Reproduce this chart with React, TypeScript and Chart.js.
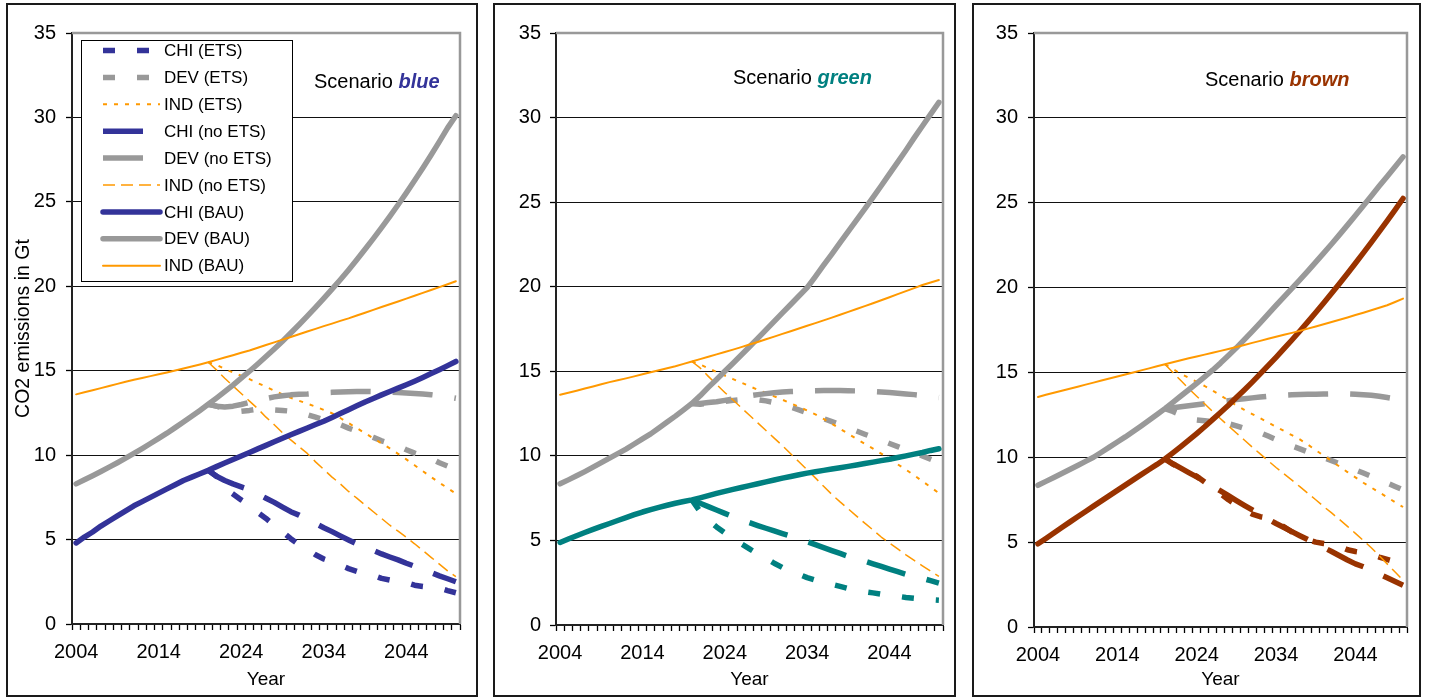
import React, { useEffect, useRef } from 'react';
import { Chart, registerables } from 'chart.js';

Chart.register(...registerables);

const FONT = '"Liberation Sans", Arial, Helvetica, sans-serif';
Chart.defaults.font.family = FONT;
Chart.defaults.color = '#000';

// ---------- categories ----------
const years = [
  '2004', '2005', '2006', '2007', '2008', '2009', '2010', '2011', '2012', '2013',
  '2014', '2015', '2016', '2017', '2018', '2019', '2020', '2021', '2022', '2023',
  '2024', '2025', '2026', '2027', '2028', '2029', '2030', '2031', '2032', '2033',
  '2034', '2035', '2036', '2037', '2038', '2039', '2040', '2041', '2042', '2043',
  '2044', '2045', '2046', '2047', '2048', '2049', '2050',
];
const yTicks = [0, 5, 10, 15, 20, 25, 30, 35];
const seriesNames = [
  'CHI (ETS)', 'DEV (ETS)', 'IND (ETS)',
  'CHI (no ETS)', 'DEV (no ETS)', 'IND (no ETS)',
  'CHI (BAU)', 'DEV (BAU)', 'IND (BAU)',
];

// ---------- Scenario blue ----------
const blueChiBau = [4.80, 5.15, 5.45, 5.80, 6.10, 6.40, 6.70, 7.00, 7.25, 7.50, 7.75, 8.00, 8.25, 8.50, 8.70, 8.90, 9.10, 9.32, 9.53, 9.74, 9.95, 10.16, 10.37, 10.58, 10.79, 11.00, 11.21, 11.41, 11.61, 11.81, 12.01, 12.23, 12.46, 12.69, 12.92, 13.15, 13.36, 13.57, 13.77, 13.97, 14.17, 14.38, 14.60, 14.83, 15.06, 15.30, 15.55];
const blueDevBau = [8.30, 8.54, 8.78, 9.03, 9.29, 9.55, 9.82, 10.10, 10.39, 10.69, 10.99, 11.30, 11.63, 11.96, 12.30, 12.65, 13.01, 13.38, 13.76, 14.15, 14.56, 14.97, 15.40, 15.84, 16.29, 16.75, 17.23, 17.72, 18.23, 18.75, 19.28, 19.83, 20.39, 20.97, 21.57, 22.19, 22.82, 23.47, 24.14, 24.83, 25.53, 26.26, 27.01, 27.78, 28.57, 29.38, 30.10];
const blueIndBau = [13.60, 13.72, 13.84, 13.97, 14.09, 14.22, 14.35, 14.46, 14.57, 14.68, 14.79, 14.90, 15.01, 15.13, 15.25, 15.37, 15.50, 15.64, 15.78, 15.92, 16.06, 16.20, 16.36, 16.52, 16.68, 16.84, 17.00, 17.16, 17.32, 17.48, 17.64, 17.79, 17.95, 18.10, 18.27, 18.43, 18.60, 18.77, 18.94, 19.10, 19.27, 19.44, 19.61, 19.78, 19.95, 20.12, 20.30];
// 2020 .. 2050
const blueChiEts = [9.10, 8.75, 8.05, 7.70, 7.35, 7.05, 6.60, 6.25, 5.85, 5.45, 5.05, 4.70, 4.42, 4.10, 3.85, 3.68, 3.49, 3.28, 3.12, 3.00, 2.88, 2.70, 2.60, 2.52, 2.45, 2.30, 2.22, 2.17, 2.13, 1.98, 1.85];
const blueDevEts = [13.01, 12.90, 12.75, 12.65, 12.60, 12.65, 12.72, 12.75, 12.68, 12.65, 12.60, 12.55, 12.40, 12.25, 12.10, 11.98, 11.80, 11.60, 11.42, 11.25, 11.05, 10.85, 10.70, 10.55, 10.32, 10.12, 9.95, 9.80, 9.55, 9.35, 9.15];
const blueIndEts = [15.50, 15.35, 15.10, 14.90, 14.70, 14.50, 14.27, 14.05, 13.82, 13.60, 13.40, 13.22, 13.05, 12.87, 12.68, 12.48, 12.20, 11.90, 11.60, 11.30, 11.00, 10.70, 10.40, 10.08, 9.75, 9.40, 9.05, 8.70, 8.37, 8.05, 7.72];
const blueChiNoEts = [9.10, 8.75, 8.50, 8.30, 8.12, 7.95, 7.70, 7.45, 7.20, 6.92, 6.65, 6.45, 6.20, 5.95, 5.70, 5.47, 5.22, 4.98, 4.75, 4.58, 4.36, 4.15, 3.97, 3.80, 3.60, 3.42, 3.25, 3.05, 2.85, 2.68, 2.50];
const blueDevNoEts = [13.01, 12.90, 12.85, 12.90, 13.00, 13.12, 13.25, 13.35, 13.45, 13.52, 13.57, 13.60, 13.62, 13.66, 13.70, 13.72, 13.74, 13.76, 13.77, 13.77, 13.76, 13.75, 13.73, 13.71, 13.68, 13.65, 13.62, 13.58, 13.52, 13.45, 13.37];
const blueIndNoEts = [15.50, 15.05, 14.55, 14.10, 13.65, 13.20, 12.75, 12.25, 11.80, 11.33, 10.90, 10.50, 10.10, 9.60, 9.15, 8.70, 8.30, 7.85, 7.45, 7.05, 6.65, 6.25, 5.85, 5.50, 5.13, 4.75, 4.35, 3.95, 3.55, 3.15, 2.80];

// ---------- Scenario green ----------
const greenChiBau = [4.88, 5.08, 5.28, 5.47, 5.65, 5.83, 6.00, 6.18, 6.35, 6.52, 6.68, 6.82, 6.95, 7.08, 7.20, 7.30, 7.40, 7.52, 7.65, 7.78, 7.90, 8.02, 8.13, 8.24, 8.35, 8.46, 8.57, 8.68, 8.78, 8.88, 8.98, 9.06, 9.14, 9.22, 9.30, 9.38, 9.46, 9.55, 9.63, 9.72, 9.80, 9.90, 10.00, 10.10, 10.20, 10.32, 10.42];
const greenDevBau = [8.35, 8.58, 8.82, 9.07, 9.33, 9.60, 9.87, 10.13, 10.40, 10.70, 11.00, 11.30, 11.65, 12.00, 12.35, 12.72, 13.10, 13.55, 14.05, 14.52, 15.00, 15.48, 15.96, 16.45, 16.95, 17.45, 17.95, 18.45, 18.95, 19.45, 19.95, 20.60, 21.27, 21.93, 22.60, 23.27, 23.93, 24.60, 25.28, 25.97, 26.67, 27.37, 28.07, 28.80, 29.50, 30.20, 30.90];
const greenIndBau = [13.61, 13.73, 13.85, 13.98, 14.10, 14.23, 14.36, 14.47, 14.58, 14.70, 14.82, 14.94, 15.06, 15.18, 15.30, 15.44, 15.58, 15.72, 15.86, 16.00, 16.14, 16.28, 16.43, 16.58, 16.73, 16.89, 17.05, 17.21, 17.37, 17.53, 17.69, 17.85, 18.01, 18.17, 18.34, 18.51, 18.68, 18.85, 19.02, 19.20, 19.38, 19.56, 19.74, 19.92, 20.10, 20.25, 20.40];
const greenChiEts = [7.40, 6.70, 6.20, 5.80, 5.45, 5.10, 4.80, 4.50, 4.20, 3.95, 3.65, 3.40, 3.20, 3.00, 2.80, 2.65, 2.50, 2.40, 2.28, 2.15, 2.05, 1.97, 1.90, 1.82, 1.75, 1.70, 1.63, 1.58, 1.53, 1.50, 1.47];
const greenDevEts = [13.10, 13.05, 13.10, 13.15, 13.22, 13.28, 13.33, 13.35, 13.32, 13.25, 13.15, 13.02, 12.88, 12.72, 12.55, 12.38, 12.20, 12.02, 11.84, 11.65, 11.47, 11.28, 11.10, 10.92, 10.73, 10.55, 10.36, 10.18, 10.00, 9.80, 9.60];
const greenIndEts = [15.58, 15.40, 15.18, 14.96, 14.75, 14.54, 14.33, 14.12, 13.91, 13.72, 13.52, 13.32, 13.11, 12.90, 12.68, 12.45, 12.18, 11.90, 11.60, 11.30, 11.00, 10.72, 10.43, 10.13, 9.82, 9.50, 9.18, 8.85, 8.50, 8.15, 7.80];
const greenChiNoEts = [7.40, 7.20, 7.00, 6.80, 6.60, 6.40, 6.22, 6.05, 5.88, 5.72, 5.56, 5.40, 5.25, 5.10, 4.93, 4.75, 4.58, 4.40, 4.23, 4.06, 3.92, 3.78, 3.62, 3.46, 3.30, 3.15, 3.00, 2.88, 2.76, 2.62, 2.48];
const greenDevNoEts = [13.10, 13.10, 13.15, 13.20, 13.28, 13.37, 13.46, 13.55, 13.62, 13.68, 13.73, 13.77, 13.80, 13.82, 13.84, 13.85, 13.86, 13.86, 13.86, 13.85, 13.84, 13.82, 13.80, 13.77, 13.74, 13.70, 13.66, 13.62, 13.57, 13.51, 13.45];
const greenIndNoEts = [15.58, 15.20, 14.70, 14.22, 13.75, 13.30, 12.85, 12.40, 11.95, 11.50, 11.05, 10.60, 10.12, 9.65, 9.18, 8.70, 8.20, 7.72, 7.28, 6.86, 6.44, 6.02, 5.62, 5.20, 4.85, 4.50, 4.15, 3.82, 3.50, 3.18, 2.87];

// ---------- Scenario brown ----------
const brownChiBau = [4.90, 5.22, 5.54, 5.86, 6.18, 6.50, 6.81, 7.12, 7.43, 7.74, 8.05, 8.36, 8.67, 8.98, 9.28, 9.58, 9.90, 10.26, 10.63, 11.01, 11.40, 11.80, 12.22, 12.64, 13.07, 13.52, 13.97, 14.43, 14.91, 15.40, 15.89, 16.40, 16.91, 17.44, 17.98, 18.53, 19.09, 19.66, 20.24, 20.83, 21.43, 22.04, 22.66, 23.29, 23.93, 24.58, 25.25];
const brownDevBau = [8.35, 8.58, 8.81, 9.04, 9.28, 9.52, 9.76, 10.00, 10.30, 10.60, 10.90, 11.20, 11.52, 11.85, 12.18, 12.52, 12.87, 13.24, 13.61, 13.98, 14.36, 14.74, 15.13, 15.55, 16.00, 16.45, 16.93, 17.42, 17.92, 18.43, 18.95, 19.45, 19.95, 20.45, 20.97, 21.50, 22.03, 22.57, 23.12, 23.68, 24.25, 24.82, 25.40, 25.98, 26.55, 27.12, 27.70];
const brownIndBau = [13.55, 13.68, 13.80, 13.92, 14.04, 14.16, 14.28, 14.40, 14.52, 14.64, 14.76, 14.88, 15.00, 15.12, 15.24, 15.36, 15.48, 15.60, 15.72, 15.83, 15.94, 16.05, 16.16, 16.27, 16.38, 16.50, 16.62, 16.74, 16.86, 16.98, 17.10, 17.22, 17.33, 17.45, 17.58, 17.71, 17.84, 17.97, 18.10, 18.24, 18.38, 18.52, 18.66, 18.81, 18.96, 19.15, 19.35];
const brownChiEts = [9.90, 9.60, 9.35, 9.10, 8.88, 8.55, 8.20, 7.85, 7.50, 7.20, 6.90, 6.65, 6.50, 6.42, 6.20, 5.90, 5.60, 5.38, 5.15, 5.00, 4.92, 4.86, 4.75, 4.55, 4.45, 4.38, 4.28, 4.12, 3.98, 3.84, 3.70];
const brownDevEts = [12.87, 12.70, 12.50, 12.30, 12.20, 12.15, 12.10, 12.05, 11.98, 11.85, 11.70, 11.57, 11.45, 11.25, 11.05, 10.85, 10.67, 10.50, 10.32, 10.14, 9.97, 9.80, 9.62, 9.44, 9.26, 9.07, 8.88, 8.68, 8.48, 8.28, 8.08];
const brownIndEts = [15.48, 15.20, 14.92, 14.68, 14.45, 14.20, 13.93, 13.65, 13.35, 13.06, 12.80, 12.55, 12.30, 12.05, 11.80, 11.55, 11.30, 11.05, 10.75, 10.42, 10.10, 9.78, 9.45, 9.13, 8.82, 8.50, 8.22, 7.93, 7.65, 7.35, 7.07];
const brownChiNoEts = [9.90, 9.62, 9.36, 9.10, 8.85, 8.58, 8.30, 8.02, 7.74, 7.45, 7.17, 6.90, 6.62, 6.36, 6.10, 5.86, 5.62, 5.38, 5.15, 4.92, 4.68, 4.45, 4.20, 3.95, 3.72, 3.55, 3.35, 3.12, 2.90, 2.68, 2.46];
const brownDevNoEts = [12.87, 12.92, 12.98, 13.04, 13.10, 13.15, 13.20, 13.27, 13.33, 13.40, 13.45, 13.50, 13.55, 13.60, 13.63, 13.66, 13.68, 13.70, 13.71, 13.72, 13.73, 13.74, 13.74, 13.73, 13.71, 13.68, 13.65, 13.60, 13.52, 13.44, 13.36];
const brownIndNoEts = [15.48, 15.00, 14.52, 14.05, 13.60, 13.15, 12.70, 12.27, 11.85, 11.43, 11.02, 10.60, 10.20, 9.80, 9.40, 9.02, 8.65, 8.27, 7.88, 7.50, 7.10, 6.72, 6.33, 5.93, 5.52, 5.10, 4.67, 4.20, 3.72, 3.24, 2.75];

// ---------- styles ----------
const GRAY = '#999999';
const ORANGE = '#FF9900';
const LEAD = 16; // years 2004..2019 before the scenario split

const lead = (v: number[]) => [...new Array(LEAD).fill(null), ...v];

type Sty = { width: number; dash: number[]; cap: CanvasLineCap };
const thickEts: Sty = { width: 5.5, dash: [12, 22], cap: 'butt' };
const thickNoEts: Sty = { width: 5.5, dash: [40, 22], cap: 'butt' };
const thickBau: Sty = { width: 5.5, dash: [], cap: 'round' };
const thinEts: Sty = { width: 2, dash: [4, 7], cap: 'butt' };
const thinNoEts: Sty = { width: 1.5, dash: [12, 6], cap: 'butt' };
const thinBau: Sty = { width: 2, dash: [], cap: 'round' };

function makeDatasets(color: string, s: number[][]) {
  const defs: [number[], string, Sty][] = [
    [lead(s[0]), color, thickEts],
    [lead(s[1]), GRAY, thickEts],
    [lead(s[2]), ORANGE, thinEts],
    [lead(s[3]), color, thickNoEts],
    [lead(s[4]), GRAY, thickNoEts],
    [lead(s[5]), ORANGE, thinNoEts],
    [s[6], color, thickBau],
    [s[7], GRAY, thickBau],
    [s[8], ORANGE, thinBau],
  ];
  return defs.map(([data, c, st], i) => ({
    label: seriesNames[i],
    data,
    borderColor: c,
    backgroundColor: c,
    borderWidth: st.width,
    borderDash: st.dash,
    borderCapStyle: st.cap,
    borderJoinStyle: 'round' as CanvasLineJoin,
    pointRadius: 0,
    pointHoverRadius: 0,
    tension: 0,
    fill: false,
    spanGaps: false,
    order: 8 - i,
  }));
}

type PanelCfg = {
  word: string;
  color: string;
  boxLeft: number;
  boxWidth: number;
  area: { left: number; right: number; top: number; bottom: number };
  yPad: number;
  yTitle: boolean;
  legend: boolean;
  label: { x: number; y: number };
  series: number[][];
};

const panels: PanelCfg[] = [
  {
    word: 'blue', color: '#333399', boxLeft: 6, boxWidth: 472,
    area: { left: 64, right: 452, top: 28, bottom: 619 }, yPad: 10, yTitle: true, legend: true,
    label: { x: 306, y: 83 },
    series: [blueChiEts, blueDevEts, blueIndEts, blueChiNoEts, blueDevNoEts, blueIndNoEts, blueChiBau, blueDevBau, blueIndBau],
  },
  {
    word: 'green', color: '#008080', boxLeft: 493, boxWidth: 463,
    area: { left: 61, right: 448, top: 28, bottom: 620 }, yPad: 9, yTitle: false, legend: false,
    label: { x: 238, y: 79 },
    series: [greenChiEts, greenDevEts, greenIndEts, greenChiNoEts, greenDevNoEts, greenIndNoEts, greenChiBau, greenDevBau, greenIndBau],
  },
  {
    word: 'brown', color: '#993300', boxLeft: 972, boxWidth: 449,
    area: { left: 60, right: 433, top: 28, bottom: 622 }, yPad: 10, yTitle: false, legend: false,
    label: { x: 231, y: 81 },
    series: [brownChiEts, brownDevEts, brownIndEts, brownChiNoEts, brownDevNoEts, brownIndNoEts, brownChiBau, brownDevBau, brownIndBau],
  },
];

const BOX_TOP = 3;
const BOX_H = 694;
const BORDER = 2;

function Panel({ cfg }: { cfg: PanelCfg }) {
  const ref = useRef<HTMLCanvasElement | null>(null);
  const innerW = cfg.boxWidth - 2 * BORDER;
  const innerH = BOX_H - 2 * BORDER;

  useEffect(() => {
    const canvas = ref.current;
    if (!canvas) return;
    const a = cfg.area;
    const bottomPad = 2;

    const framePlugin = {
      id: 'frame',
      beforeDatasetsDraw(chart: any) {
        const { ctx, chartArea } = chart;
        ctx.save();
        ctx.strokeStyle = GRAY;
        ctx.lineWidth = 2.5;
        ctx.beginPath();
        ctx.moveTo(chartArea.left, chartArea.top);
        ctx.lineTo(chartArea.right, chartArea.top);
        ctx.lineTo(chartArea.right, chartArea.bottom);
        ctx.stroke();
        ctx.restore();
      },
    };

    const labelPlugin = {
      id: 'scenarioLabel',
      afterDraw(chart: any) {
        const { ctx } = chart;
        ctx.save();
        ctx.textBaseline = 'alphabetic';
        ctx.textAlign = 'left';
        ctx.font = `20px ${FONT}`;
        ctx.fillStyle = '#000';
        const first = 'Scenario ';
        ctx.fillText(first, cfg.label.x, cfg.label.y);
        const w = ctx.measureText(first).width;
        ctx.font = `italic bold 20px ${FONT}`;
        ctx.fillStyle = cfg.color;
        ctx.fillText(cfg.word, cfg.label.x + w, cfg.label.y);
        ctx.restore();
      },
    };

    const legendPlugin = {
      id: 'boxLegend',
      afterDatasetsDraw(chart: any) {
        if (!cfg.legend) return;
        const { ctx } = chart;
        const bx = 73, by = 35, bw = 211, bh = 241;
        ctx.save();
        ctx.fillStyle = '#fff';
        ctx.fillRect(bx, by, bw, bh);
        ctx.strokeStyle = '#000';
        ctx.lineWidth = 1;
        ctx.strokeRect(bx + 0.5, by + 0.5, bw, bh);
        const dsets = chart.data.datasets;
        dsets.forEach((d: any, i: number) => {
          const y = 45.5 + 26.9 * i;
          ctx.save();
          ctx.strokeStyle = d.borderColor;
          ctx.lineWidth = d.borderWidth;
          ctx.setLineDash(d.borderDash || []);
          ctx.lineCap = d.borderCapStyle || 'butt';
          ctx.beginPath();
          ctx.moveTo(95, y);
          ctx.lineTo(152, y);
          ctx.stroke();
          ctx.restore();
          ctx.fillStyle = '#000';
          ctx.font = `17px ${FONT}`;
          ctx.textBaseline = 'middle';
          ctx.textAlign = 'left';
          ctx.fillText(d.label, 156, y + 1);
        });
        ctx.restore();
      },
    };

    const chart = new Chart(canvas, {
      type: 'line',
      data: {
        labels: years,
        datasets: makeDatasets(cfg.color, cfg.series) as any,
      },
      options: {
        animation: false,
        responsive: false,
        maintainAspectRatio: false,
        devicePixelRatio: 1,
        events: [],
        layout: {
          padding: { left: 0, top: a.top, right: innerW - a.right, bottom: bottomPad },
        },
        plugins: {
          legend: { display: false },
          tooltip: { enabled: false },
          title: { display: false },
        },
        scales: {
          x: {
            type: 'category',
            offset: true,
            grid: {
              offset: true,
              drawOnChartArea: false,
              drawTicks: true,
              tickLength: 6,
              tickColor: '#000',
              tickWidth: 1.3,
            },
            border: { display: true, color: '#222', width: 2 },
            ticks: {
              autoSkip: false,
              maxRotation: 0,
              minRotation: 0,
              padding: 10,
              color: '#000',
              font: { size: 20, family: FONT },
              callback: (_v: any, index: number) => {
                const y = years[index];
                return (Number(y) - Number(years[0])) % 10 === 0 ? y : '';
              },
            },
            title: {
              display: true,
              text: 'Year',
              color: '#000',
              font: { size: 19, family: FONT },
              padding: { top: 0, bottom: 2 },
            },
            afterFit: (s: any) => {
              s.height = innerH - bottomPad - a.bottom;
            },
          },
          y: {
            type: 'linear',
            min: yTicks[0],
            max: yTicks[yTicks.length - 1],
            afterBuildTicks: (s: any) => {
              s.ticks = yTicks.map((v) => ({ value: v }));
            },
            ticks: {
              stepSize: 5,
              padding: cfg.yPad,
              color: '#000',
              font: { size: 20, family: FONT },
            },
            grid: {
              color: '#111',
              lineWidth: 1,
              drawTicks: true,
              tickLength: 6,
              tickColor: '#000',
              tickWidth: 1.3,
            },
            border: { display: true, color: '#222', width: 2 },
            title: {
              display: cfg.yTitle,
              text: 'CO2 emissions in Gt',
              color: '#000',
              font: { size: 19.5, family: FONT },
              padding: { top: 4, bottom: 0 },
            },
            afterFit: (s: any) => {
              s.width = a.left;
            },
          },
        },
      } as any,
      plugins: [framePlugin, legendPlugin, labelPlugin],
    });
    return () => {
      chart.destroy();
    };
  }, [cfg]);

  return (
    <div
      style={{
        position: 'absolute',
        left: cfg.boxLeft,
        top: BOX_TOP,
        width: cfg.boxWidth,
        height: BOX_H,
        border: `${BORDER}px solid #1a1a1a`,
        boxSizing: 'border-box',
        background: '#fff',
      }}
    >
      <canvas
        ref={ref}
        width={innerW}
        height={innerH}
        style={{ display: 'block', width: innerW, height: innerH }}
      />
    </div>
  );
}

export default function App() {
  return (
    <div
      style={{
        position: 'fixed',
        left: 0,
        top: 0,
        width: 1429,
        height: 699,
        background: '#fff',
        overflow: 'hidden',
      }}
    >
      {panels.map((p) => (
        <Panel key={p.word} cfg={p} />
      ))}
    </div>
  );
}
